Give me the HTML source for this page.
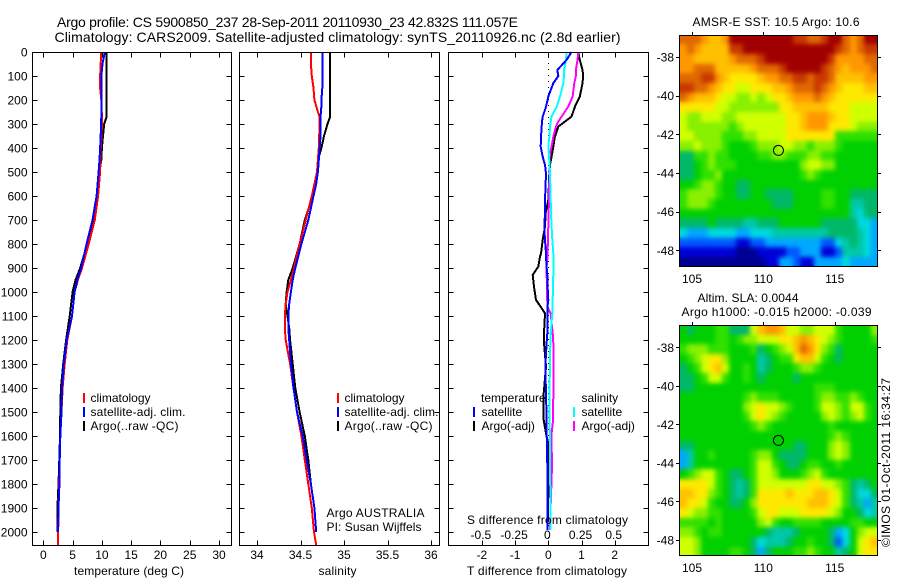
<!DOCTYPE html>
<html>
<head>
<meta charset="utf-8">
<title>Argo profile</title>
<style>
html,body{margin:0;padding:0;background:#fff;}
svg{display:block;}
text{font-family:"Liberation Sans",sans-serif;font-size:12px;fill:#000;}
.t14{font-size:14px;}
.line{fill:none;stroke-width:2;shape-rendering:crispEdges;stroke-linejoin:round;}
.ax{stroke:#000;stroke-width:1;fill:none;shape-rendering:crispEdges;}
</style>
</head>
<body>
<svg id="fig" xmlns="http://www.w3.org/2000/svg" width="900" height="580" viewBox="0 0 900 580">
<defs>
<filter id="soften" x="-10%" y="-10%" width="120%" height="120%" color-interpolation-filters="sRGB">
<feGaussianBlur in="SourceGraphic" stdDeviation="2.4" result="b"/>
<feMerge><feMergeNode in="SourceGraphic"/><feMergeNode in="b"/></feMerge>
</filter>
</defs>
<rect width="900" height="580" fill="#fff"/>
<g id="maps"></g>
<g id="panels"></g>
<g id="ticks"></g>

<text class="t14" x="57" y="27" textLength="461">Argo profile: CS 5900850_237 28-Sep-2011 20110930_23 42.832S 111.057E</text>
<text class="t14" x="54.5" y="42" textLength="566">Climatology: CARS2009. Satellite-adjusted climatology: synTS_20110926.nc (2.8d earlier)</text>

<text x="74" y="575" textLength="110">temperature (deg C)</text>
<text x="318.5" y="575" textLength="38">salinity</text>
<text x="467" y="575" textLength="160">T difference from climatology</text>
<text x="467" y="524" textLength="161">S difference from climatology</text>

<g>
<rect x="83" y="393" width="2" height="10" fill="#f00"/><text x="90.5" y="402">climatology</text>
<rect x="83" y="407" width="2" height="10" fill="#00f"/><text x="90.5" y="416" textLength="95">satellite-adj. clim.</text>
<rect x="83" y="421" width="2" height="10" fill="#000"/><text x="90.5" y="430" textLength="88">Argo(..raw -QC)</text>
</g>
<g>
<rect x="337" y="393" width="2" height="10" fill="#f00"/><text x="344.5" y="402">climatology</text>
<rect x="337" y="407" width="2" height="10" fill="#00f"/><text x="344.5" y="416" textLength="94">satellite-adj. clim.</text>
<rect x="337" y="421" width="2" height="10" fill="#000"/><text x="344.5" y="430" textLength="88">Argo(..raw -QC)</text>
</g>
<g>
<text x="481" y="402">temperature</text>
<rect x="473" y="407" width="2" height="10" fill="#00f"/><text x="481.5" y="416">satellite</text>
<rect x="473" y="421" width="2" height="10" fill="#000"/><text x="481.5" y="430">Argo(-adj)</text>
<text x="581.5" y="402">salinity</text>
<rect x="573" y="407" width="2" height="10" fill="#0ff"/><text x="581.5" y="416">satellite</text>
<rect x="573" y="421" width="2" height="10" fill="#f0f"/><text x="581.5" y="430">Argo(-adj)</text>
</g>
<text x="326.5" y="517" textLength="98">Argo AUSTRALIA</text>
<text x="326.5" y="531" textLength="95">PI: Susan Wijffels</text>

<text x="692.5" y="26" textLength="167">AMSR-E SST: 10.5 Argo: 10.6</text>
<text x="697.5" y="302" textLength="101">Altim. SLA: 0.0044</text>
<text x="681.5" y="316" textLength="190">Argo h1000: -0.015 h2000: -0.039</text>
<text transform="translate(890,547) rotate(-90)" textLength="169">©IMOS 01-Oct-2011 16:34:27</text>
</svg>

<script>
// ---- profile data ----
const tempDepths = [0,50,100,150,200,270,300,350,400,450,500,600,700,800,900,950,1000,1100,1200,1300,1400,1500,1600,1700,1800,1900,2000,2054];
const tempArgo = [10.8,10.8,10.8,10.8,10.8,10.8,10.4,10.2,10.0,9.9,9.6,9.1,8.5,7.5,6.3,5.5,5.0,4.5,3.9,3.4,3.0,2.9,2.85,2.73,2.6,2.4,2.4,null];
const tempSatellite = [10.5,10.1,9.9,9.9,9.9,9.9,9.85,9.8,9.7,9.6,9.45,9.1,8.4,7.4,6.45,5.8,5.35,4.9,4.0,3.5,3.2,3.1,2.9,2.8,2.75,2.6,2.5,null];
const tempClimatology = [9.85,9.8,9.7,9.7,9.9,10,10,9.95,9.8,9.75,9.7,9.35,8.8,7.75,6.6,5.9,5.35,4.9,4.1,3.65,3.3,3.1,2.9,2.8,2.7,2.6,2.55,2.55];

const salDepths = [0,50,100,150,200,225,250,270,300,350,400,450,500,550,600,700,800,850,900,950,1000,1050,1100,1150,1200,1300,1400,1500,1600,1700,1800,1900,2000,2054];
const salArgo = [34.84,34.84,34.84,34.84,34.84,34.84,34.84,34.84,34.81,34.77,34.74,34.70,34.69,34.67,34.64,34.55,34.49,34.45,34.41,34.36,34.34,34.33,34.35,34.37,34.38,34.41,34.44,34.49,34.55,34.59,34.62,34.66,34.68,null];
const salSatellite = [34.755,34.755,34.755,34.75,34.74,34.74,34.735,34.73,34.73,34.73,34.72,34.71,34.70,34.68,34.65,34.59,34.51,34.475,34.44,34.41,34.39,34.37,34.36,34.36,34.37,34.39,34.42,34.46,34.525,34.57,34.62,34.66,34.68,null];
const salClimatology = [34.62,34.62,34.63,34.65,34.66,34.68,34.70,34.72,34.72,34.715,34.71,34.70,34.69,34.66,34.63,34.56,34.49,34.455,34.425,34.39,34.35,34.33,34.32,34.32,34.33,34.38,34.42,34.46,34.51,34.55,34.59,34.63,34.655,34.68];

const diffDepths = [0,33,75,100,130,186,228,269,290,311,353,394,436,471,506,617,672,728,783,839,853,894,929,978,1033,1068,1089,1172,1213,1311,1422,1533,1590,1630,1727,1850,1991];
const tDiffArgo = [.9,.95,1.03,1.05,1.03,.95,.8,.7,.5,.3,.2,.15,.1,.05,.03,0,-.08,-.1,-.17,-.22,-.25,-.3,-.47,-.43,-.37,-.2,-.1,-.13,-.13,-.07,-.14,-.14,-.07,0,0,0,-.02];
const tDiffSatellite = [.7,.55,.27,.3,.15,0,-.07,-.17,-.19,-.2,-.22,-.23,-.17,-.1,-.07,-.1,-.1,-.12,-.1,-.07,-.07,-.05,-.03,-.02,0,-.03,-.03,-.03,-.05,-.09,-.07,-.05,-.05,-.04,-.03,-.03,-.03];
const sDiffSatellite = [.138,.133,.118,.118,.113,.088,.063,.025,.018,.013,.008,0,.005,.01,.013,.018,.02,.025,.03,.038,.038,.038,.038,.035,.033,.03,.03,.018,.015,.013,.008,.008,.012,.012,.013,.016,.018];
const sDiffArgo = [.226,.22,.208,.208,.196,.183,.15,.1,.075,.058,.038,.025,.008,.008,.008,.005,.002,0,-.003,-.005,-.006,-.0125,-.0125,-.008,-.008,-.003,.018,.033,.038,.04,.038,.036,.025,.025,.028,.02,.012];

// ---- tick labels ----
const depthTicks = [0,100,200,300,400,500,600,700,800,900,1000,1100,1200,1300,1400,1500,1600,1700,1800,1900,2000];
const tempTicks = [0,5,10,15,20,25,30];
const salTicks = [34,34.5,35,35.5,36];
const salTickLabels = ['34','34.5','35','35.5','36'];
const tDiffTicks = [-2,-1,0,1,2];
const sDiffTicks = [-0.5,-0.25,0,0.25,0.5];
const sDiffTickLabels = ['-0.5','-0.25','0','0.25','0.5'];
const lonTicks = [105,110,115];
const latTicks = [-38,-40,-42,-44,-46,-48];

// ---- argo float position ----
const floatLon = 111.057;
const floatLat = -42.832;

// ---- heatmap colour levels (rows north to south, 0.5 degree cells) ----
const sstLevels = [
[14,14,14,13,12,12,13,16,16,16,16,16,16,16,16,16,15,15,14,14,15,16,16,14,13,14,16,16],
[13,14,13,12,12,12,12,15,15,16,16,16,16,16,16,16,16,16,16,16,16,16,15,14,13,14,15,15],
[13,13,12,12,12,12,12,13,14,14,14,15,16,16,16,16,16,16,16,16,16,15,13,13,13,13,14,14],
[13,13,14,14,14,12,12,12,12,12,13,14,14,14,15,16,16,16,16,16,15,14,13,12,13,13,13,14],
[14,14,14,15,15,13,12,11,11,11,11,12,13,13,14,14,15,15,14,15,15,14,12,12,12,12,13,13],
[15,15,14,14,13,12,11,11,10,10,11,11,11,12,12,13,14,14,14,15,14,13,12,11,11,11,12,12],
[14,13,12,12,12,11,10,10,9,9,10,9,10,11,11,12,13,13,13,14,13,12,11,11,11,11,11,11],
[11,11,11,11,11,10,10,9,9,9,9,9,9,9,11,11,12,12,12,12,12,11,11,11,10,10,10,10],
[10,9,9,10,10,10,9,9,10,10,10,10,10,10,10,11,11,12,13,13,13,12,11,11,10,10,10,10],
[10,9,9,9,9,9,9,8,9,10,10,10,10,10,10,11,11,12,13,13,13,11,11,11,10,9,9,9],
[10,10,9,9,9,9,8,8,8,9,9,10,10,10,10,11,11,11,11,11,11,11,8,8,8,8,8,8],
[9,9,10,9,9,9,8,7,7,7,8,9,9,9,10,10,9,9,8,9,9,9,8,7,7,7,7,7],
[6,6,8,8,9,8,8,7,7,7,7,8,8,9,9,8,8,8,9,9,8,8,7,7,7,7,7,7],
[6,6,7,8,9,8,8,8,7,7,7,7,7,7,7,7,7,9,10,10,9,9,7,7,7,7,7,7],
[6,6,7,8,8,9,7,7,7,7,7,7,7,7,7,7,7,8,9,8,7,7,7,7,7,7,7,7],
[7,7,8,9,9,8,7,7,6,6,7,7,7,7,7,7,7,7,7,7,7,7,7,7,7,7,7,7],
[8,9,9,9,9,8,7,7,6,6,7,7,6,6,6,6,7,7,7,7,8,8,7,7,6,6,6,6],
[8,9,9,9,8,7,7,7,7,7,7,7,7,6,6,6,7,7,7,7,8,8,7,7,5,5,6,6],
[7,7,7,7,7,7,7,7,7,7,7,7,7,7,7,7,7,7,7,7,7,7,7,7,5,4,6,6],
[6,6,6,6,7,6,6,6,6,5,5,6,6,6,7,7,7,7,7,7,6,6,6,6,6,4,4,3],
[4,3,3,3,4,4,4,4,3,3,4,4,4,5,5,5,5,5,5,5,5,6,6,6,6,5,4,3],
[2,2,2,2,2,2,2,2,1,1,2,2,3,3,3,3,3,3,3,3,2,2,4,5,6,5,4,3],
[1,1,1,1,1,1,1,1,0,0,0,1,1,1,1,2,2,3,3,3,1,1,2,5,5,5,4,3],
[0,0,0,0,0,0,0,0,0,0,0,0,1,1,3,3,2,1,1,3,3,3,3,4,3,3,3,3]
];
const slaLevels = [
[7,6,7,7,7,8,8,6,6,6,10,12,13,13,12,10,10,9,9,10,10,10,8,7,7,7,7,9],
[7,7,7,7,7,8,8,7,8,9,9,10,10,10,11,11,12,13,12,11,10,9,8,7,7,7,7,8],
[8,9,9,9,8,8,8,7,7,7,8,6,7,8,9,10,12,14,13,11,9,8,6,7,7,7,7,7],
[7,8,9,10,11,11,9,7,7,7,7,5,6,7,8,8,11,12,12,10,8,7,6,7,7,7,7,7],
[6,7,8,10,11,12,10,7,7,8,7,5,6,7,7,7,8,9,9,8,7,7,7,7,7,7,7,7],
[6,6,7,8,10,10,8,7,7,8,7,6,7,7,7,7,6,7,7,7,7,7,7,7,7,7,7,7],
[6,6,7,7,7,7,7,7,7,7,7,7,7,7,7,7,7,7,7,8,8,8,7,7,7,7,7,7],
[7,7,7,7,7,7,7,7,7,8,9,8,8,8,7,7,7,7,7,8,9,9,8,8,9,8,7,7],
[7,7,7,7,7,7,7,7,7,9,10,11,10,10,9,8,7,7,7,8,10,10,9,8,10,10,8,7],
[7,7,7,7,7,7,7,7,7,8,10,11,10,9,8,7,7,7,7,7,9,10,9,8,9,10,8,7],
[7,7,7,7,7,7,7,7,7,7,8,9,8,7,7,7,7,7,7,7,7,8,7,7,7,7,7,7],
[7,7,7,7,7,7,7,7,7,7,7,7,7,7,7,7,7,7,7,7,7,8,9,8,7,7,7,7],
[6,6,7,7,7,7,7,7,7,7,7,7,7,7,7,7,6,6,7,7,7,9,10,9,7,7,7,7],
[3,5,7,7,8,7,7,7,7,7,8,9,9,7,6,6,6,6,7,7,7,9,10,9,7,7,7,7],
[3,5,7,7,7,7,7,7,7,7,8,10,10,8,7,6,6,7,8,8,7,7,8,7,7,7,7,7],
[7,8,9,10,10,8,7,6,6,7,8,10,10,9,7,7,7,8,9,10,8,7,7,7,7,7,7,7],
[11,11,11,11,10,8,7,6,5,6,8,10,10,10,10,10,10,10,11,11,10,10,9,8,6,5,6,7],
[12,12,11,11,9,8,7,6,5,6,8,11,11,11,11,12,11,11,11,12,12,11,10,8,6,4,4,6],
[12,11,11,10,8,7,7,6,6,7,9,11,11,11,11,11,11,11,12,12,12,11,10,8,6,5,3,5],
[11,10,9,9,8,8,7,7,7,7,8,10,11,11,10,10,10,11,11,11,11,10,9,7,7,6,4,5],
[8,8,8,8,7,8,7,7,7,7,7,9,10,8,7,7,8,8,8,8,7,7,7,7,8,8,7,7],
[9,9,8,7,8,8,7,7,7,7,7,7,6,5,5,5,6,7,7,7,7,6,3,4,7,9,10,10],
[10,10,9,7,7,7,7,7,7,7,6,4,5,5,5,6,7,7,8,7,7,6,2,4,7,10,11,12],
[10,10,9,7,7,7,7,8,8,7,6,3,6,7,7,7,8,8,9,8,7,7,5,6,7,10,11,11]
];
const levelColors = ['#000090','#0000d8','#0058ff','#00a8ff','#00d8e0','#00c8a8','#00b868','#00d000','#30e000','#88f000','#d0ff00','#ffe800','#ffc000','#ff9800','#e06800','#c83800','#a00000'];

// ---- layout constants and axis functions ----
const NS = 'http://www.w3.org/2000/svg';
const TOP = 52, BOTTOM = 545;
const panelBoxes = [[32,231],[239,439],[448,648]];
const depthY = d => TOP + 0.24 * d;
const tempX = v => 43.3 + 5.857 * v;
const salX = v => 257 + 87 * (v - 34);
const tDiffX = v => 548.3 + 33.2 * v;
const sDiffX = v => 548.3 + 132.8 * v;
const lonX = lon => 692 + 14.27 * (lon - 105);
const sstLatY = lat => 57 + 19.33 * (-38 - lat);
const slaLatY = lat => 347.3 + 19.27 * (-38 - lat);

const panels = document.getElementById('panels');
const tickLayer = document.getElementById('ticks');
const maps = document.getElementById('maps');
const defs = document.querySelector('defs');

function make(tag, parent, attrs) {
  const el = document.createElementNS(NS, tag);
  for (const k in attrs) el.setAttribute(k, attrs[k]);
  parent.appendChild(el);
  return el;
}
function tickLabel(str, x, y, anchor) {
  const t = make('text', tickLayer, {x: x, y: y, 'text-anchor': anchor});
  t.textContent = str;
  
  
  return t;
}
function seg(parent, x1, y1, x2, y2) {
  const l = make('line', parent, {x1: x1, y1: y1, x2: x2, y2: y2, class: 'ax'});
  
  
  return l;
}
function profile(name, depths, values, xFn, yFn, color) {
  let pts = [];
  for (let i = 0; i < depths.length; i++) {
    if (values[i] === null) continue;
    pts.push(xFn(values[i]).toFixed(1) + ',' + yFn(depths[i]).toFixed(1));
  }
  const p = make('polyline', panels, {points: pts.join(' '), class: 'line', stroke: color});
  
  
  return p;
}

// series
profile('temperature-argo-line', tempDepths, tempArgo, tempX, depthY, '#000');
profile('temperature-climatology-line', tempDepths, tempClimatology, tempX, depthY, '#f00');
profile('temperature-satellite-line', tempDepths, tempSatellite, tempX, depthY, '#00f');
profile('salinity-argo-line', salDepths, salArgo, salX, depthY, '#000');
profile('salinity-climatology-line', salDepths, salClimatology, salX, depthY, '#f00');
profile('salinity-satellite-line', salDepths, salSatellite, salX, depthY, '#00f');

const zeroLine = make('line', panels, {x1: tDiffX(0), y1: TOP + 5, x2: tDiffX(0), y2: BOTTOM, stroke: '#000', 'stroke-width': 1, 'stroke-dasharray': '1 5', 'shape-rendering': 'crispEdges'});



profile('t-difference-argo-line', diffDepths, tDiffArgo, tDiffX, depthY, '#000');
profile('s-difference-argo-line', diffDepths, sDiffArgo, sDiffX, depthY, '#f0f');
profile('s-difference-satellite-line', diffDepths, sDiffSatellite, sDiffX, depthY, '#0ff');
profile('t-difference-satellite-line', diffDepths, tDiffSatellite, tDiffX, depthY, '#00f');

// frames and ticks
panelBoxes.forEach(function (b) {
  const r = make('rect', tickLayer, {x: b[0] + .5, y: TOP + .5, width: b[1] - b[0], height: BOTTOM - TOP, class: 'ax'});
  
  
  depthTicks.forEach(function (d) {
    const y = Math.round(depthY(d)) + .5;
    seg(tickLayer, b[0] + .5, y, b[0] + 5.5, y);
    seg(tickLayer, b[1] + .5, y, b[1] - 4.5, y);
  });
});
function xTicks(ticks, xFn) {
  ticks.forEach(function (v) {
    const x = Math.round(xFn(v)) + .5;
    seg(tickLayer, x, TOP + .5, x, TOP + 5.5);
    seg(tickLayer, x, BOTTOM + .5, x, BOTTOM - 4.5);
  });
}
xTicks(tempTicks, tempX);
xTicks(salTicks, salX);
xTicks(tDiffTicks, tDiffX);
depthTicks.forEach(function (d) { tickLabel(String(d), 27.5, depthY(d) + 4.5, 'end'); });
tempTicks.forEach(function (v) { tickLabel(String(v), tempX(v), 559, 'middle'); });
salTicks.forEach(function (v, i) { tickLabel(salTickLabels[i], salX(v), 559, 'middle'); });
tDiffTicks.forEach(function (v) { tickLabel(String(v), tDiffX(v), 559, 'middle'); });
sDiffTicks.forEach(function (v, i) { tickLabel(sDiffTickLabels[i], sDiffX(v) - 1, 539, 'middle'); });

// heatmaps
function heatmap(name, levels, latY) {
  const west = 104.12, north = -36.84, dLon = 13.91 / 28, dLat = 0.5;
  const west0 = Math.round(lonX(west)), east0 = Math.round(lonX(west + 28 * dLon));
  const top0 = Math.round(latY(north)), bot0 = Math.round(latY(north - 24 * dLat));
  const clip = make('clipPath', defs, {id: name + '-clip'});
  make('rect', clip, {x: west0, y: top0, width: east0 - west0, height: bot0 - top0});
  const outer = make('g', maps, {'clip-path': 'url(#' + name + '-clip)'});
  const cells = make('g', outer, {filter: 'url(#soften)'});
  
  
  levels.forEach(function (row, r) {
    row.forEach(function (lvl, c) {
      const x0 = Math.round(lonX(west + c * dLon)), x1 = Math.round(lonX(west + (c + 1) * dLon));
      const y0 = Math.round(latY(north - r * dLat)), y1 = Math.round(latY(north - (r + 1) * dLat));
      const cell = make('rect', cells, {x: x0, y: y0, width: x1 - x0, height: y1 - y0, fill: levelColors[lvl], 'shape-rendering': 'crispEdges'});
      
      
    });
  });
  const f = make('rect', maps, {x: west0 + .5, y: top0 + .5, width: east0 - west0 - 1, height: bot0 - top0 - 1, class: 'ax'});
  
  
  lonTicks.forEach(function (lon) {
    const x = Math.round(lonX(lon)) + .5;
    seg(maps, x, top0 - 3, x, top0);
    tickLabel(String(lon), lonX(lon), bot0 + 16, 'middle');
  });
  latTicks.forEach(function (lat) {
    const y = Math.round(latY(lat)) + .5;
    seg(maps, west0 - 3, y, west0, y);
    seg(maps, east0, y, east0 + 3, y);
    tickLabel(String(lat), 674, latY(lat) + 4.5, 'end');
  });
  const c = make('circle', maps, {cx: lonX(floatLon), cy: latY(floatLat), r: 5, fill: 'none', stroke: '#000', 'stroke-width': 1});
  
  
}
heatmap('sst-map', sstLevels, sstLatY);
heatmap('sla-map', slaLevels, slaLatY);
</script>
</body>
</html>
